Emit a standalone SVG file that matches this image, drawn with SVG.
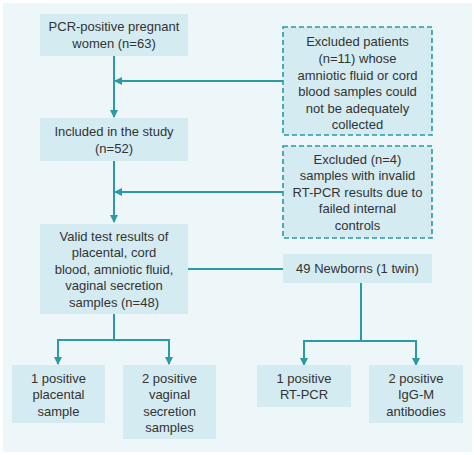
<svg xmlns="http://www.w3.org/2000/svg" width="474" height="455" viewBox="0 0 474 455">
<defs>
<marker id="ah" markerWidth="8" markerHeight="8" refX="7" refY="4" orient="auto" markerUnits="userSpaceOnUse">
<path d="M0,0 L8,4 L0,8 Z" fill="#2a9aa5"/>
</marker>
<style>
.box{fill:#d4ebf1}
.dbox{fill:#d4ebf1;stroke:#2a9aa5;stroke-width:1.6;stroke-dasharray:5,3}
text{font-family:"Liberation Sans",Arial,sans-serif;font-size:13px;fill:#333;text-anchor:middle}
.ln{fill:none;stroke:#2a9aa5;stroke-width:2}
</style>
</defs>
<rect x="0" y="0" width="474" height="455" fill="#ffffff"/>
<rect x="3" y="3" width="469" height="449" fill="#edf6f9"/>
<g id="connectors">
<path class="ln" d="M114,56 V117" marker-end="url(#ah)"/>
<path class="ln" d="M283,81 H115" marker-end="url(#ah)"/>
<path class="ln" d="M114,161 V222" marker-end="url(#ah)"/>
<path class="ln" d="M283,192 H115" marker-end="url(#ah)"/>
<path class="ln" d="M188,269 H283"/>
<path class="ln" d="M114,314 V340"/>
<path class="ln" d="M58,340 H169"/>
<path class="ln" d="M58,339 V364" marker-end="url(#ah)"/>
<path class="ln" d="M169,339 V364" marker-end="url(#ah)"/>
<path class="ln" d="M361,283 V341"/>
<path class="ln" d="M304,341 H416"/>
<path class="ln" d="M304,340 V365" marker-end="url(#ah)"/>
<path class="ln" d="M416,340 V365" marker-end="url(#ah)"/>
</g>
<g id="n1">
<rect class="box" x="40" y="14" width="148" height="42"/>
<text x="114" y="31">PCR-positive pregnant</text>
<text x="114" y="48">women (n=63)</text>
</g>
<g id="n2">
<rect class="box" x="40" y="118" width="148" height="43"/>
<text x="114" y="136">Included in the study</text>
<text x="114" y="153">(n=52)</text>
</g>
<g id="ex1">
<rect class="dbox" x="283" y="27" width="149" height="108"/>
<text x="357.5" y="46">Excluded patients</text>
<text x="357.5" y="63">(n=11) whose</text>
<text x="357.5" y="80">amniotic fluid or cord</text>
<text x="357.5" y="96">blood samples could</text>
<text x="357.5" y="113">not be adequately</text>
<text x="357.5" y="129">collected</text>
</g>
<g id="ex2">
<rect class="dbox" x="283" y="146" width="149" height="92"/>
<text x="357.5" y="164">Excluded (n=4)</text>
<text x="357.5" y="180">samples with invalid</text>
<text x="357.5" y="197">RT-PCR results due to</text>
<text x="357.5" y="213">failed internal</text>
<text x="357.5" y="230">controls</text>
</g>
<g id="n3">
<rect class="box" x="40" y="224" width="148" height="90"/>
<text x="114" y="241">Valid test results of</text>
<text x="114" y="257">placental, cord</text>
<text x="114" y="274">blood, amniotic fluid,</text>
<text x="114" y="290">vaginal secretion</text>
<text x="114" y="307">samples (n=48)</text>
</g>
<g id="n4">
<rect class="box" x="283" y="254" width="149" height="29"/>
<text x="357.5" y="273">49 Newborns (1 twin)</text>
</g>
<g id="n5">
<rect class="box" x="12" y="365" width="93" height="58"/>
<text x="58.5" y="383">1 positive</text>
<text x="58.5" y="399">placental</text>
<text x="58.5" y="416">sample</text>
</g>
<g id="n6">
<rect class="box" x="123" y="365" width="93" height="74"/>
<text x="169.5" y="383">2 positive</text>
<text x="169.5" y="399">vaginal</text>
<text x="169.5" y="416">secretion</text>
<text x="169.5" y="432">samples</text>
</g>
<g id="n7">
<rect class="box" x="257" y="365" width="94" height="42"/>
<text x="304" y="383">1 positive</text>
<text x="304" y="399">RT-PCR</text>
</g>
<g id="n8">
<rect class="box" x="369" y="365" width="94" height="58"/>
<text x="416" y="383">2 positive</text>
<text x="416" y="399">IgG-M</text>
<text x="416" y="416">antibodies</text>
</g>
</svg>
